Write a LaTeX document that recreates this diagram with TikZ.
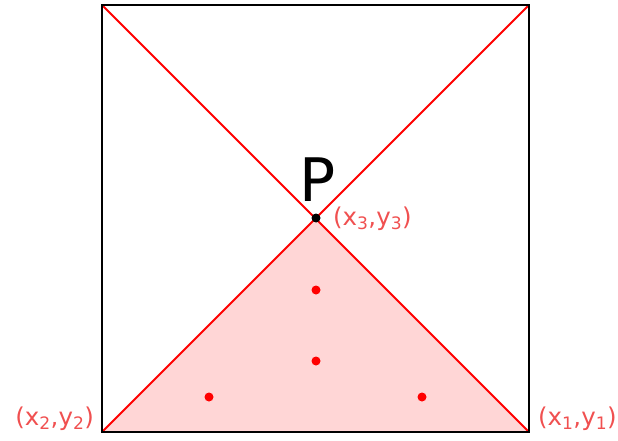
\documentclass[tikz,border=0pt]{standalone}
\usepackage{fontspec}
\setmainfont{DejaVu Sans}
\usetikzlibrary{positioning}
\definecolor{labelred}{RGB}{240,80,80}
\definecolor{fillpink}{RGB}{255,214,214}

\begin{document}
\begin{tikzpicture}[x=1pt, y=-1pt, line width=2pt]
  \useasboundingbox (0,0) rectangle (618,441);

  % corners of the square and the centre point
  \coordinate (tl) at (102,5);
  \coordinate (tr) at (529,5);
  \coordinate (bl) at (102,432);
  \coordinate (br) at (529,432);
  \coordinate (p) at (316,218);

  % shaded lower triangle
  \fill[fillpink] (bl) -- (br) -- (p) -- cycle;

  % diagonals
  \draw[red] (tl) -- (br);
  \draw[red] (tr) -- (bl);

  % square outline
  \draw[black] (tl) rectangle (br);

  % sample points inside the triangle
  \foreach \px/\py in {316/290, 316/361, 209/397, 422/397}
    \fill[red] (\px,\py) circle (4.5);

  % centre point
  \fill[black] (p) circle (4.5);
  \node[font=\fontsize{60}{60}\selectfont, anchor=south, inner sep=0pt] (plabel) at (318,202) {P};

  % vertex labels
  \node[text=labelred, font=\fontsize{24.5}{24.5}\selectfont, anchor=west, inner sep=0pt] (v3) at (332,219) {(x\textsubscript{3},y\textsubscript{3})};
  \node[text=labelred, font=\fontsize{24.5}{24.5}\selectfont, anchor=east, inner sep=0pt] (v2) at (95,419) {(x\textsubscript{2},y\textsubscript{2})};
  \node[text=labelred, font=\fontsize{24.5}{24.5}\selectfont, anchor=west, inner sep=0pt] (v1) at (537,419) {(x\textsubscript{1},y\textsubscript{1})};

\end{tikzpicture}
\end{document}
